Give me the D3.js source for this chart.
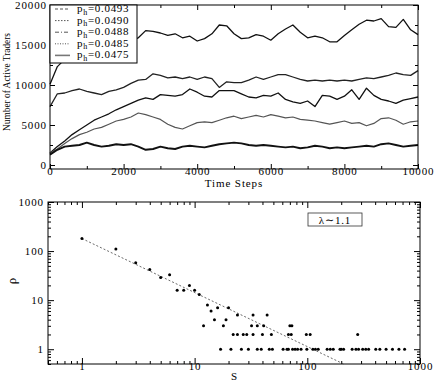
<!DOCTYPE html>
<html>
<head>
<meta charset="utf-8">
<title>Active traders</title>
<style>
body{margin:0;background:#fff}
svg text{font-family:"Liberation Serif","DejaVu Serif",serif;fill:#000}
</style>
</head>
<body>
<script src="https://d3js.org/d3.v7.min.js"></script>
<script>
// top panel: number of active traders, sampled every 200 steps
var czas = d3.range(0, 10001, 200);
var etykiety = ["0.0493", "0.0490", "0.0488", "0.0485", "0.0475"];
var s0493 = [10100,12300,13200,13800,14300,14700,15000,15200,15400,15500,15500,15600,15900,16800,16700,16500,16200,16400,15900,16100,
  15500,15800,16400,17500,17400,16400,15800,15900,16300,16100,15600,16400,17000,17500,16600,15900,16100,15900,15400,15400,
  16200,16900,17600,18100,18000,18300,17300,17200,18200,16900,16300];
var s0490 = [7300,8900,9000,9300,9500,9200,9000,8800,9200,9400,9700,10200,10600,10700,11400,11200,10900,11000,10800,11000,
  10700,11000,10800,9700,10400,10300,10300,10600,11000,10700,11000,11300,11300,11000,10700,10500,10600,10500,10600,10500,
  10600,10500,10700,10900,10800,11000,11200,11500,11300,11200,11800];
var s0488 = [1500,2300,3000,3800,4400,5000,5600,6000,6400,6900,7300,7700,8100,8400,8200,8800,8700,8600,8800,9500,
  9100,8600,8500,9300,9300,9300,8900,8500,8400,8700,8600,9000,8200,7900,7700,8000,7300,8700,8600,8200,
  8600,9400,8200,9600,8700,8200,8000,7700,8100,8300,8500];
var s0485 = [1500,2000,2700,3300,3800,4100,4500,4700,5100,5500,5700,6000,6500,6300,6000,5700,5100,4700,4500,4900,
  5300,5400,5300,5600,5900,6100,5800,6000,6200,6000,6300,6100,5900,6000,5700,5600,5500,5300,5100,5300,
  5500,5200,5300,4900,5200,5800,5900,5600,5100,5400,5500];
var s0475 = [1300,1900,2300,2400,2500,2800,2500,2300,2400,2600,2500,2600,2300,1900,2000,2300,2100,2000,2300,2400,
  2300,2200,2400,2600,2700,2800,2700,2500,2400,2500,2400,2300,2200,2300,2100,2200,2400,2300,2100,2200,
  2100,2200,2300,2400,2300,2600,2700,2500,2300,2400,2500];
var serie = [s0493, s0490, s0488, s0485, s0475];

// bottom panel: rho(S), log-log
var rozmiarS = [1,2,3,4,5,6,7,8,9,10,11,12,13,14,15,16,17,18,19,20,21,22,24,24,26,27,29,30,32,33,33,36,36,39,40,41,44,46,48,49,
  61,66,68,68,70,72,73,74,78,82,88,98,99,106,112,118,125,150,160,170,195,200,210,250,270,280,285,310,330,350,405,440,500,570,650,730];
var rho = [180,110,58,42,29,33,16,16,20,16,13,3,8,6,4,7,1,3,4,7,1,2,2,5,1,2,2,1,3,5,2,3,1,1,2,3,5,1,2,1,
  1,1,1,2,3,2,3,1,1,1,1,2,1,2,1,1,1,1,1,1,1,1,1,1,1,2,1,1,1,1,1,1,1,1,1,1];
var dopasowanie = [[1, 180], [210, 0.5]];
var xTicksTop = [0, 2000, 4000, 6000, 8000, 10000];
var yTicksTop = [0, 5000, 10000, 15000, 20000];
var dekady = [1, 10, 100, 1000];

var svg = d3.select('body').append('svg')
  .attr('width', 436).attr('height', 382);

// ---------- top panel ----------
var xT = d3.scaleLinear().domain([0, 10000]).range([50, 418]);
var yT = d3.scaleLinear().domain([-500, 20000]).range([169, 5]);
var gora = svg.append('g');

// legend styles; the noisy curves read as solid lines in the plot
var style = [
  {kolor: '#111', w: 1.3, leg: '3,2'},
  {kolor: '#222', w: 1.3, leg: '1.5,1.5'},
  {kolor: '#111', w: 1.3, leg: '4,2,1,2'},
  {kolor: '#555', w: 1.2, leg: '1,1.5'},
  {kolor: '#111', w: 1.9, leg: null}
];

var linia = d3.line()
  .x(function(d, i) { return xT(czas[i]); })
  .y(function(d) { return yT(d); });

gora.selectAll('path.seria')
  .data(serie)
  .enter()
  .append('path')
  .attr('class', 'seria')
  .attr('d', linia)
  .attr('fill', 'none')
  .attr('stroke', function(d, i) { return style[i].kolor; })
  .attr('stroke-width', function(d, i) { return style[i].w; })
  .attr('stroke-linejoin', 'round');

function ticks(g, axis) {
  g.call(axis);
  g.select('.domain').remove();
  g.selectAll('line').attr('stroke', '#000');
  g.selectAll('text').style('font-size', '11px').style('letter-spacing', '0.9px')
    .attr('font-family', null);
}

// major + minor ticks, pointing inward on all sides
var xMinorTop = d3.range(1000, 10000, 2000);
var yMinorTop = d3.range(2500, 20000, 5000);
ticks(gora.append('g').attr('transform', 'translate(0,169)'),
  d3.axisBottom(xT).tickValues(xTicksTop).tickSizeInner(-5).tickSizeOuter(0).tickPadding(-1.5).tickFormat(d3.format('d')));
ticks(gora.append('g').attr('transform', 'translate(0,169)'),
  d3.axisBottom(xT).tickValues(xMinorTop).tickSizeInner(-3).tickSizeOuter(0).tickFormat(''));
ticks(gora.append('g').attr('transform', 'translate(0,5)'),
  d3.axisTop(xT).tickValues(xTicksTop).tickSizeInner(-5).tickSizeOuter(0).tickFormat(''));
ticks(gora.append('g').attr('transform', 'translate(0,5)'),
  d3.axisTop(xT).tickValues(xMinorTop).tickSizeInner(-3).tickSizeOuter(0).tickFormat(''));
ticks(gora.append('g').attr('transform', 'translate(50,0)'),
  d3.axisLeft(yT).tickValues(yTicksTop).tickSizeInner(-5).tickSizeOuter(0).tickPadding(3).tickFormat(d3.format('d')));
ticks(gora.append('g').attr('transform', 'translate(50,0)'),
  d3.axisLeft(yT).tickValues(yMinorTop).tickSizeInner(-3).tickSizeOuter(0).tickFormat(''));
ticks(gora.append('g').attr('transform', 'translate(418,0)'),
  d3.axisRight(yT).tickValues(yTicksTop).tickSizeInner(-5).tickSizeOuter(0).tickFormat(''));
ticks(gora.append('g').attr('transform', 'translate(418,0)'),
  d3.axisRight(yT).tickValues(yMinorTop).tickSizeInner(-3).tickSizeOuter(0).tickFormat(''));

gora.append('rect')
  .attr('x', 50).attr('y', 5).attr('width', 368).attr('height', 164)
  .attr('fill', 'none').attr('stroke', '#000').attr('stroke-width', 1);

gora.append('text')
  .attr('x', 234).attr('y', 187)
  .attr('text-anchor', 'middle')
  .style('font-size', '11px').style('letter-spacing', '0.9px')
  .text('Time Steps');

gora.append('text')
  .attr('transform', 'translate(10,82) rotate(-90)')
  .attr('text-anchor', 'middle')
  .attr('textLength', 98).attr('lengthAdjust', 'spacingAndGlyphs')
  .style('font-size', '10px')
  .text('Number of Active Traders');

// legend
var leg = gora.append('g');
leg.append('rect')
  .attr('x', 50).attr('y', 5).attr('width', 87).attr('height', 58)
  .attr('fill', '#fff').attr('stroke', '#000').attr('stroke-width', 1);
var wpis = leg.selectAll('g.wpis')
  .data(etykiety)
  .enter()
  .append('g')
  .attr('class', 'wpis')
  .attr('transform', function(d, i) { return 'translate(0,' + (9 + i * 11.6) + ')'; });
wpis.append('line')
  .attr('x1', 55).attr('x2', 70)
  .attr('stroke', function(d, i) { return i == 4 ? '#777' : '#555'; })
  .attr('stroke-width', function(d, i) { return i == 4 ? 1.6 : 1; })
  .attr('stroke-dasharray', function(d, i) { return style[i].leg; });
var tl = wpis.append('text')
  .attr('x', 77).attr('y', 3)
  .style('font-size', '11px').style('letter-spacing', '0.7px');
tl.append('tspan').text('p');
tl.append('tspan').attr('dy', 2.5).style('font-size', '8px').text('h');
tl.append('tspan').attr('dy', -2.5).text(function(d) { return '=' + d; });

// ---------- bottom panel ----------
var xB = d3.scaleLog().domain([0.5, 1000]).range([48, 420]);
var yB = d3.scaleLog().domain([0.5, 1000]).range([364, 202]);
var dol = svg.append('g');

var minory = [];
[0.1, 1, 10, 100].forEach(function(dek) {
  for (var k = 2; k <= 9; k++) {
    var v = dek * k;
    if (v >= 0.5 && v < 1000 && dekady.indexOf(v) < 0) minory.push(v);
  }
});

ticks(dol.append('g').attr('transform', 'translate(0,364)'),
  d3.axisBottom(xB).tickValues(dekady).tickSizeInner(-6).tickSizeOuter(0).tickPadding(-1.5).tickFormat(d3.format('d')));
ticks(dol.append('g').attr('transform', 'translate(0,364)'),
  d3.axisBottom(xB).tickValues(minory).tickSizeInner(-3).tickSizeOuter(0).tickFormat(''));
ticks(dol.append('g').attr('transform', 'translate(0,202)'),
  d3.axisTop(xB).tickValues(dekady).tickSizeInner(-6).tickSizeOuter(0).tickFormat(''));
ticks(dol.append('g').attr('transform', 'translate(0,202)'),
  d3.axisTop(xB).tickValues(minory).tickSizeInner(-3).tickSizeOuter(0).tickFormat(''));
ticks(dol.append('g').attr('transform', 'translate(48,0)'),
  d3.axisLeft(yB).tickValues(dekady).tickSizeInner(-6).tickSizeOuter(0).tickPadding(4).tickFormat(d3.format('d')));
ticks(dol.append('g').attr('transform', 'translate(48,0)'),
  d3.axisLeft(yB).tickValues(minory).tickSizeInner(-3).tickSizeOuter(0).tickFormat(''));
ticks(dol.append('g').attr('transform', 'translate(420,0)'),
  d3.axisRight(yB).tickValues(dekady).tickSizeInner(-6).tickSizeOuter(0).tickFormat(''));
ticks(dol.append('g').attr('transform', 'translate(420,0)'),
  d3.axisRight(yB).tickValues(minory).tickSizeInner(-3).tickSizeOuter(0).tickFormat(''));

dol.append('rect')
  .attr('x', 48).attr('y', 202).attr('width', 372).attr('height', 162)
  .attr('fill', 'none').attr('stroke', '#000').attr('stroke-width', 1);

// fit line
dol.append('path')
  .attr('d', d3.line().x(function(d) { return xB(d[0]); }).y(function(d) { return yB(d[1]); })(dopasowanie))
  .attr('fill', 'none').attr('stroke', '#444').attr('stroke-width', 0.8)
  .attr('stroke-dasharray', '2,2');

dol.selectAll('circle')
  .data(rozmiarS)
  .enter()
  .append('circle')
  .attr('cx', function(d) { return xB(d); })
  .attr('cy', function(d, i) { return yB(rho[i]); })
  .attr('r', 1.5)
  .attr('fill', '#000');

dol.append('rect')
  .attr('x', 308).attr('y', 213).attr('width', 54).attr('height', 13)
  .attr('fill', '#fff').attr('stroke', '#333').attr('stroke-width', 0.8);
dol.append('text')
  .attr('x', 335).attr('y', 223.5)
  .attr('text-anchor', 'middle')
  .style('font-size', '11px').style('letter-spacing', '0.8px')
  .text('λ∼1.1');

dol.append('text')
  .attr('x', 234).attr('y', 380)
  .attr('text-anchor', 'middle')
  .style('font-size', '11px')
  .text('S');

dol.append('text')
  .attr('transform', 'translate(16,281) rotate(-90)')
  .attr('text-anchor', 'middle')
  .style('font-size', '13px')
  .text('ρ');
</script>
</body>
</html>
